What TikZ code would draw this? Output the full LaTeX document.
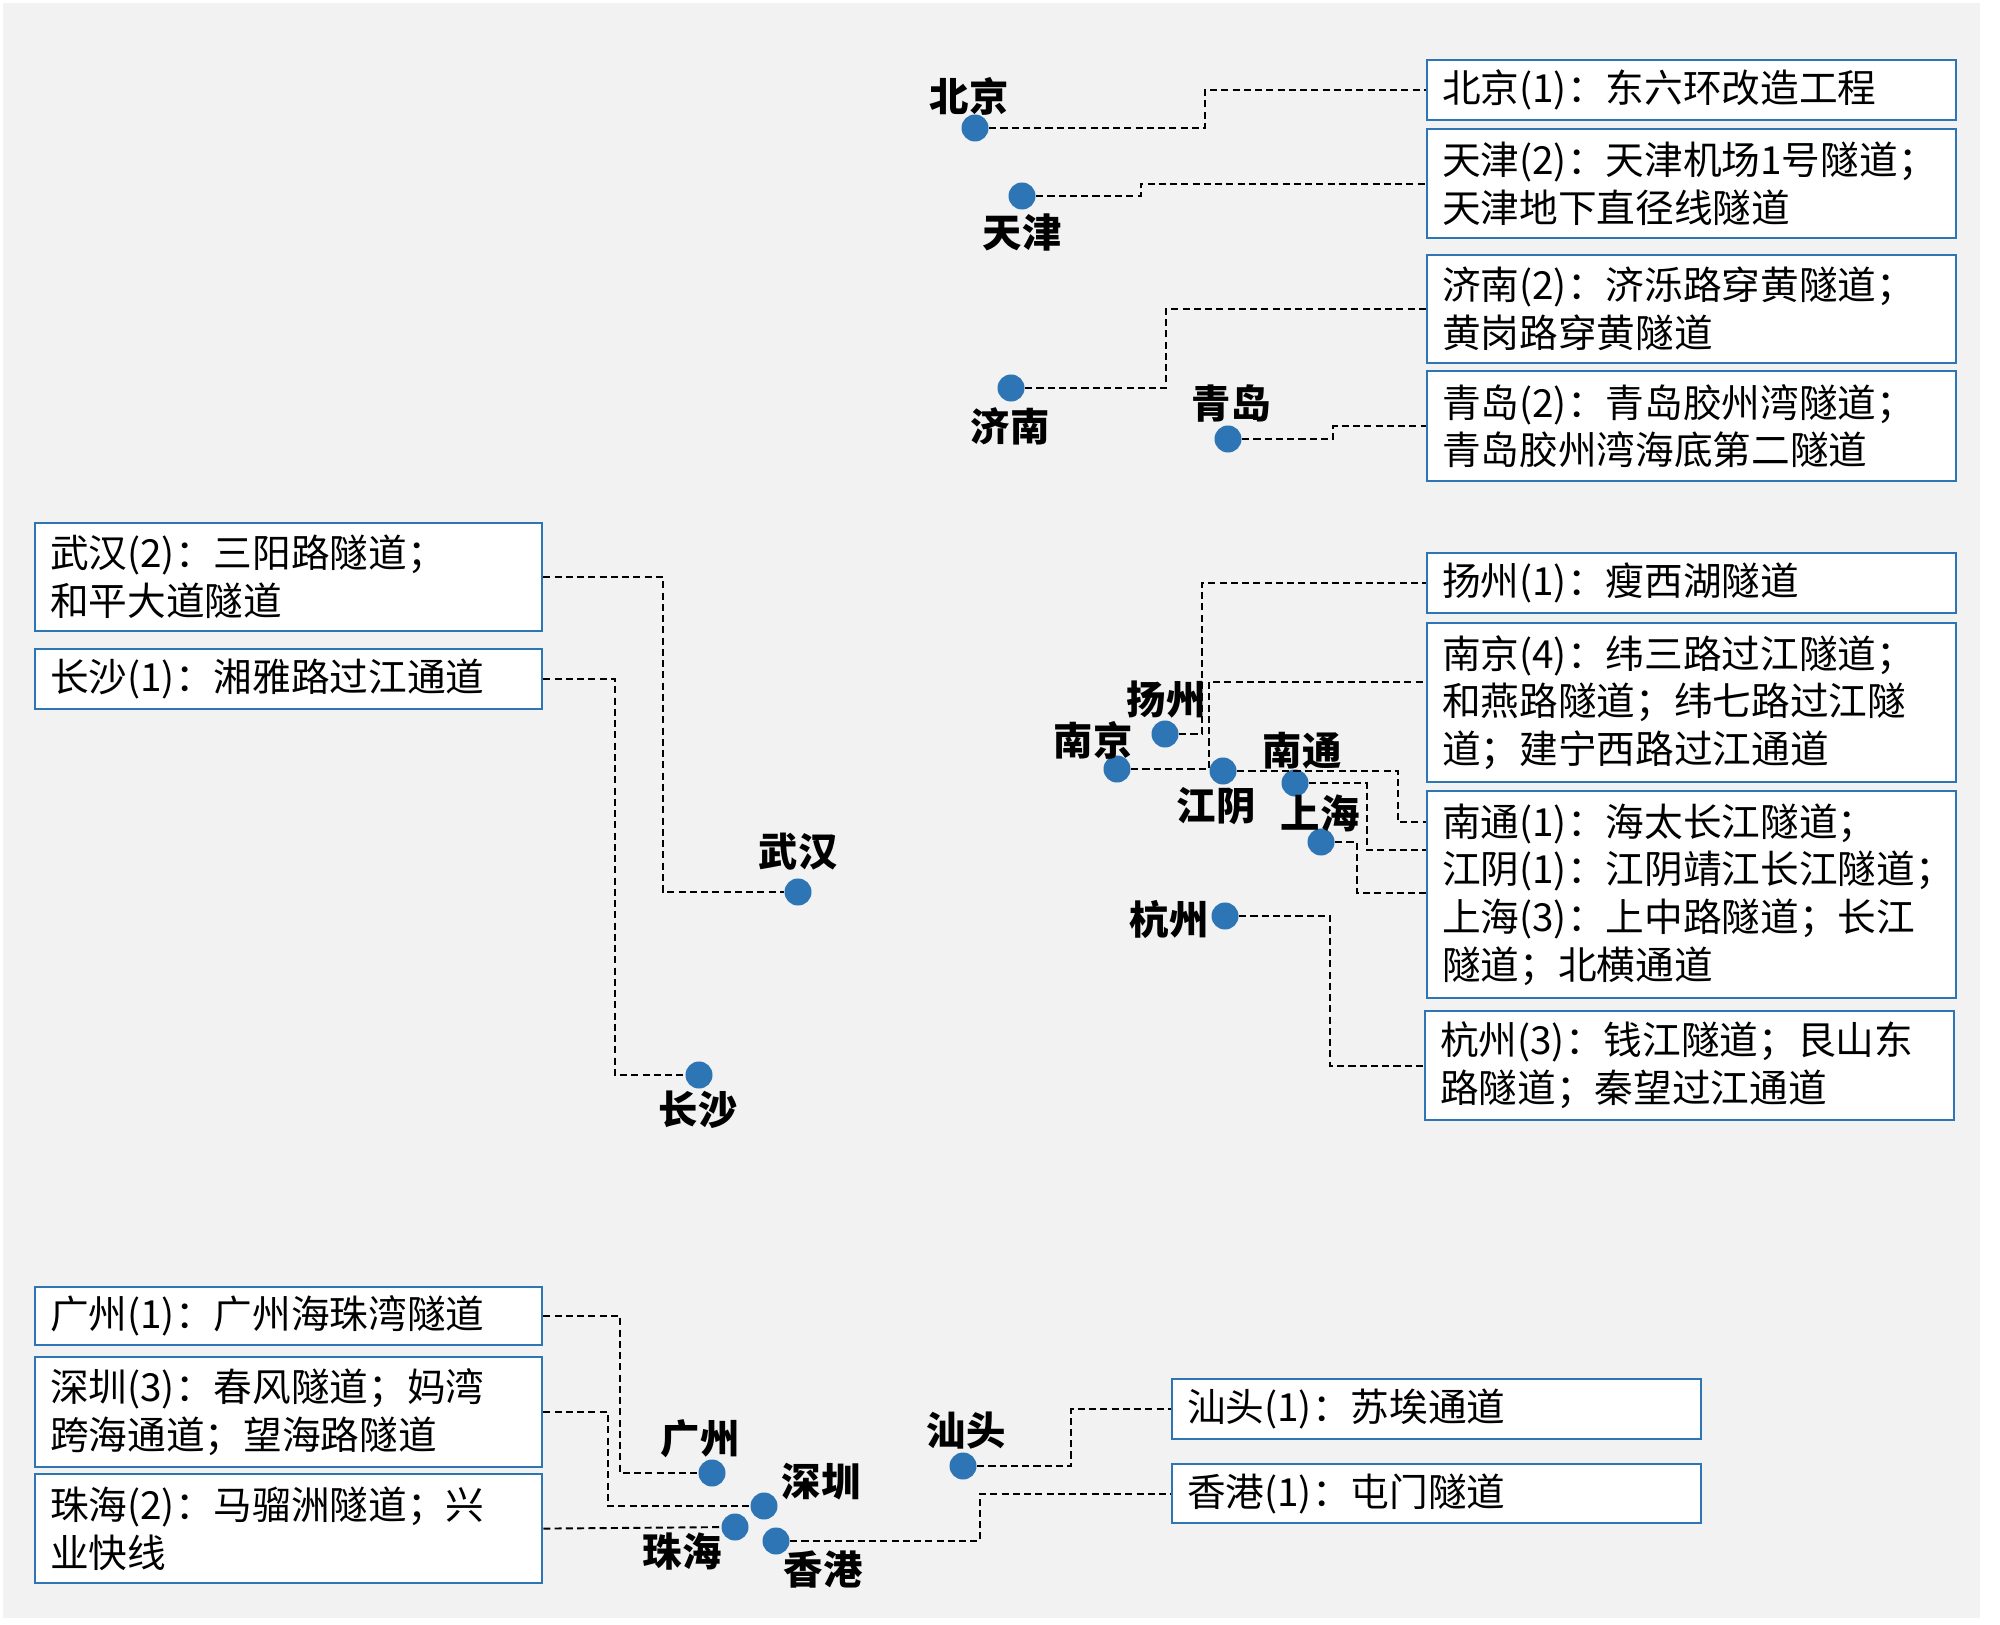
\documentclass[tikz,border=0pt]{standalone}
\usepackage{fontspec}
\newfontfamily\cjk{Noto Sans CJK SC}
\definecolor{dotblue}{HTML}{2E75B6}
\definecolor{bggray}{HTML}{F2F2F2}
\tikzset{
  citydot/.style={circle, fill=dotblue, inner sep=0pt, minimum size=0.27cm},
  citylabel/.style={inner sep=0pt, font=\cjk\bfseries\fontsize{11.2}{12}\selectfont},
  tunnelbox/.style={draw=dotblue, line width=0.6pt, fill=white, anchor=north west,
    align=left, inner xsep=0.15cm, inner ysep=0pt, text width=#1,
    font=\cjk\fontsize{11}{13.6}\selectfont},
  leader/.style={line width=0.55pt, dash pattern=on 2pt off 1.2pt}
}
\begin{document}
\begin{tikzpicture}[x=0.01cm, y=-0.01cm]
    \useasboundingbox (0,0) rectangle (2000,1625);
    \fill[white] (0,0) rectangle (2000,1625);
    \fill[bggray] (3,3) rectangle (1980,1618);
    % cities
    \node[citydot] (bj) at (975,128) {};
    \node[citydot] (tj) at (1022,196) {};
    \node[citydot] (jn) at (1011,388) {};
    \node[citydot] (qd) at (1228,439) {};
    \node[citydot] (yz) at (1165,734) {};
    \node[citydot] (nj) at (1117,769) {};
    \node[citydot] (jy) at (1223,771) {};
    \node[citydot] (nt) at (1295,783) {};
    \node[citydot] (sh) at (1321,842) {};
    \node[citydot] (hz) at (1225,916) {};
    \node[citydot] (wh) at (798,892) {};
    \node[citydot] (cs) at (699,1075) {};
    \node[citydot] (gz) at (712,1473) {};
    \node[citydot] (sz) at (764,1506) {};
    \node[citydot] (zh) at (735,1527) {};
    \node[citydot] (hk) at (776,1541) {};
    \node[citydot] (st) at (963,1466) {};
    \node[citylabel] (bjlab) at (969,96) {北京};
    \node[citylabel] (tjlab) at (1022,233) {天津};
    \node[citylabel] (jnlab) at (1010,426) {济南};
    \node[citylabel] (qdlab) at (1231,403) {青岛};
    \node[citylabel] (yzlab) at (1166,700) {扬州};
    \node[citylabel] (njlab) at (1093,740) {南京};
    \node[citylabel] (jylab) at (1216,806) {江阴};
    \node[citylabel] (ntlab) at (1302,751) {南通};
    \node[citylabel] (shlab) at (1320,813) {上海};
    \node[citylabel] (hzlab) at (1169,919) {杭州};
    \node[citylabel] (whlab) at (798,852) {武汉};
    \node[citylabel] (cslab) at (698,1110) {长沙};
    \node[citylabel] (gzlab) at (700,1439) {广州};
    \node[citylabel] (szlab) at (821,1482) {深圳};
    \node[citylabel] (zhlab) at (682,1552) {珠海};
    \node[citylabel] (hklab) at (823,1569) {香港};
    \node[citylabel] (stlab) at (966,1431) {汕头};
    % tunnel lists
    \node[tunnelbox=4.99cm, minimum height=0.6cm] (bjbox) at (1426,59) {北京(1)：东六环改造工程};
    \node[tunnelbox=4.99cm, minimum height=1.09cm] (tjbox) at (1426,128) {天津(2)：天津机场1号隧道；\\天津地下直径线隧道};
    \node[tunnelbox=4.99cm, minimum height=1.08cm] (jnbox) at (1426,254) {济南(2)：济泺路穿黄隧道；\\黄岗路穿黄隧道};
    \node[tunnelbox=4.99cm, minimum height=1.1cm] (qdbox) at (1426,370) {青岛(2)：青岛胶州湾隧道；\\青岛胶州湾海底第二隧道};
    \node[tunnelbox=4.99cm, minimum height=0.6cm] (yzbox) at (1426,552) {扬州(1)：瘦西湖隧道};
    \node[tunnelbox=4.99cm, minimum height=1.59cm] (njbox) at (1426,622) {南京(4)：纬三路过江隧道；\\和燕路隧道；纬七路过江隧\\道；建宁西路过江通道};
    \node[tunnelbox=4.99cm, minimum height=2.07cm] (ntbox) at (1426,790) {南通(1)：海太长江隧道；\\江阴(1)：江阴靖江长江隧道；\\上海(3)：上中路隧道；长江\\隧道；北横通道};
    \node[tunnelbox=4.99cm, minimum height=1.09cm] (hzbox) at (1424,1010) {杭州(3)：钱江隧道；艮山东\\路隧道；秦望过江通道};
    \node[tunnelbox=4.77cm, minimum height=1.08cm] (whbox) at (34,522) {武汉(2)：三阳路隧道；\\和平大道隧道};
    \node[tunnelbox=4.77cm, minimum height=0.6cm] (csbox) at (34,648) {长沙(1)：湘雅路过江通道};
    \node[tunnelbox=4.77cm, minimum height=0.58cm] (gzbox) at (34,1286) {广州(1)：广州海珠湾隧道};
    \node[tunnelbox=4.77cm, minimum height=1.1cm] (szbox) at (34,1356) {深圳(3)：春风隧道；妈湾\\跨海通道；望海路隧道};
    \node[tunnelbox=4.77cm, minimum height=1.09cm] (zhbox) at (34,1473) {珠海(2)：马骝洲隧道；兴\\业快线};
    \node[tunnelbox=4.99cm, minimum height=0.6cm] (stbox) at (1171,1378) {汕头(1)：苏埃通道};
    \node[tunnelbox=4.99cm, minimum height=0.59cm] (hkbox) at (1171,1463) {香港(1)：屯门隧道};
    % leaders
    \draw[leader] (bj) -- (bj -| 1205,0) |- (bjbox.west);
    \draw[leader] (tj) -- (tj -| 1141,0) |- (tjbox.west);
    \draw[leader] (jn) -- (jn -| 1166,0) |- (jnbox.west);
    \draw[leader] (qd) -- (qd -| 1333,0) |- (qdbox.west);
    \draw[leader] (yz) -- (yz -| 1202,0) |- (yzbox.west);
    \draw[leader] (nj) -- (nj -| 1209,0) |- (njbox.west |- 0,682);
    \draw[leader] (jy) -- (jy -| 1398,0) |- (ntbox.west |- 0,822);
    \draw[leader] (nt) -- (nt -| 1367,0) |- (ntbox.west |- 0,850);
    \draw[leader] (sh) -- (sh -| 1357,0) |- (ntbox.west |- 0,893);
    \draw[leader] (hz) -- (hz -| 1330,0) |- (hzbox.west);
    \draw[leader] (whbox.east) -- (whbox.east -| 663,0) |- (wh);
    \draw[leader] (csbox.east) -- (csbox.east -| 615,0) |- (cs);
    \draw[leader] (gzbox.east) -- (gzbox.east -| 620,0) |- (gz);
    \draw[leader] (szbox.east) -- (szbox.east -| 608,0) |- (sz);
    \draw[leader] (zhbox.east) -- (zh);
    \draw[leader] (hk) -- (hk -| 980,0) |- (hkbox.west);
    \draw[leader] (st) -- (st -| 1071,0) |- (stbox.west);
\end{tikzpicture}
\end{document}
